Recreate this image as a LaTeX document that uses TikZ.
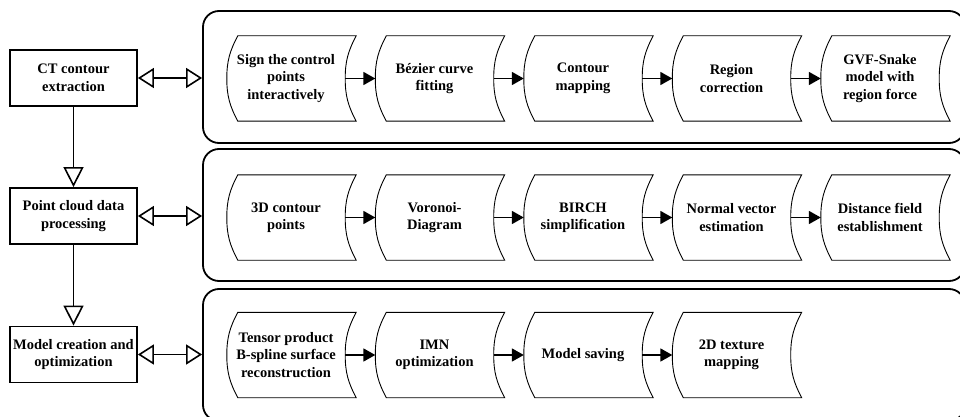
\documentclass[tikz,border=0pt]{standalone}
\usepackage{fontspec}
\setmainfont{Liberation Serif}
\usetikzlibrary{arrows.meta}

\tikzset{
  txt/.style={font=\fontsize{14.5}{17.5}\selectfont\bfseries, align=center},
  mainbox/.style={txt, draw, line width=1.8pt, minimum width=127pt, minimum height=56pt, inner sep=0pt},
  stage/.style={draw, line width=1.8pt, rounded corners=16pt},
  proc/.style={txt, minimum width=118pt, minimum height=85pt, inner sep=0pt},
  outline/.style={line width=0.9pt},
  flow/.style={line width=1.8pt, -{Triangle[length=12pt,width=13pt]}},
  link/.style={line width=1.8pt,
    {Triangle[open,length=16pt,width=20pt,line width=1.6pt]}-{Triangle[open,length=16pt,width=20pt,line width=1.6pt]}},
  down/.style={line width=1.8pt, -{Triangle[open,length=20pt,width=20pt,line width=1.6pt]}},
}

% stored-data outline around a process node (both sides bow to the left)
\newcommand{\procshape}[1]{%
  \draw[outline]
    ([xshift=11pt]#1.north west) -- ([xshift=11pt]#1.north east)
    to[out=-118,in=90] (#1.east)
    to[out=-90,in=118] ([xshift=11pt]#1.south east)
    -- ([xshift=11pt]#1.south west)
    to[out=118,in=-90] (#1.west)
    to[out=90,in=-118] cycle;}

\begin{document}
\begin{tikzpicture}[x=1pt,y=-1pt]
\clip (0,0) rectangle (960,417);

% stage containers
\node[stage, minimum width=762pt, minimum height=132pt] (s1) at (584,77) {};
\node[stage, minimum width=762pt, minimum height=132pt] (s2) at (584,215) {};
\node[stage, minimum width=762pt, minimum height=132pt] (s3) at (584,355) {};

% main steps
\node[mainbox] (m1) at (73.5,78) {CT contour\\extraction};
\node[mainbox] (m2) at (73.5,216) {Point cloud data\\processing};
\node[mainbox] (m3) at (73.5,354.5) {Model creation and\\optimization};

\draw[down] (m1) -- (m2);
\draw[down] (m2) -- (m3);
\draw[link] (m1.east) -- (m1.east -| s1.west);
\draw[link] (m2.east) -- (m2.east -| s2.west);
\draw[link] (m3.east) -- (m3.east -| s3.west);

% row 1
\node[proc] (a1) at (286,78.5) {Sign the control\\points\\interactively};
\node[proc] (a2) at (434.5,78.5) {B\'ezier curve\\fitting};
\node[proc] (a3) at (583,78.5) {Contour\\mapping};
\node[proc] (a4) at (731.5,78.5) {Region\\correction};
\node[proc] (a5) at (880,78.5) {GVF-Snake\\model with\\region force};

% row 2
\node[proc] (b1) at (286,217.5) {3D contour\\points};
\node[proc] (b2) at (434.5,217.5) {Voronoi-\\Diagram};
\node[proc] (b3) at (583,217.5) {BIRCH\\simplification};
\node[proc] (b4) at (731.5,217.5) {Normal vector\\estimation};
\node[proc] (b5) at (880,217.5) {Distance field\\establishment};

% row 3
\node[proc] (c1) at (286,355) {Tensor product\\B-spline surface\\reconstruction};
\node[proc] (c2) at (434.5,355) {IMN\\optimization};
\node[proc] (c3) at (583,355) {Model saving};
\node[proc] (c4) at (731.5,355) {2D texture\\mapping};

\foreach \n in {a1,a2,a3,a4,a5,b1,b2,b3,b4,b5,c1,c2,c3,c4} {\procshape{\n}}

\draw[flow] (a1) -- (a2);
\draw[flow] (a2) -- (a3);
\draw[flow] (a3) -- (a4);
\draw[flow] (a4) -- (a5);
\draw[flow] (b1) -- (b2);
\draw[flow] (b2) -- (b3);
\draw[flow] (b3) -- (b4);
\draw[flow] (b4) -- (b5);
\draw[flow] (c1) -- (c2);
\draw[flow] (c2) -- (c3);
\draw[flow] (c3) -- (c4);
\end{tikzpicture}
\end{document}
